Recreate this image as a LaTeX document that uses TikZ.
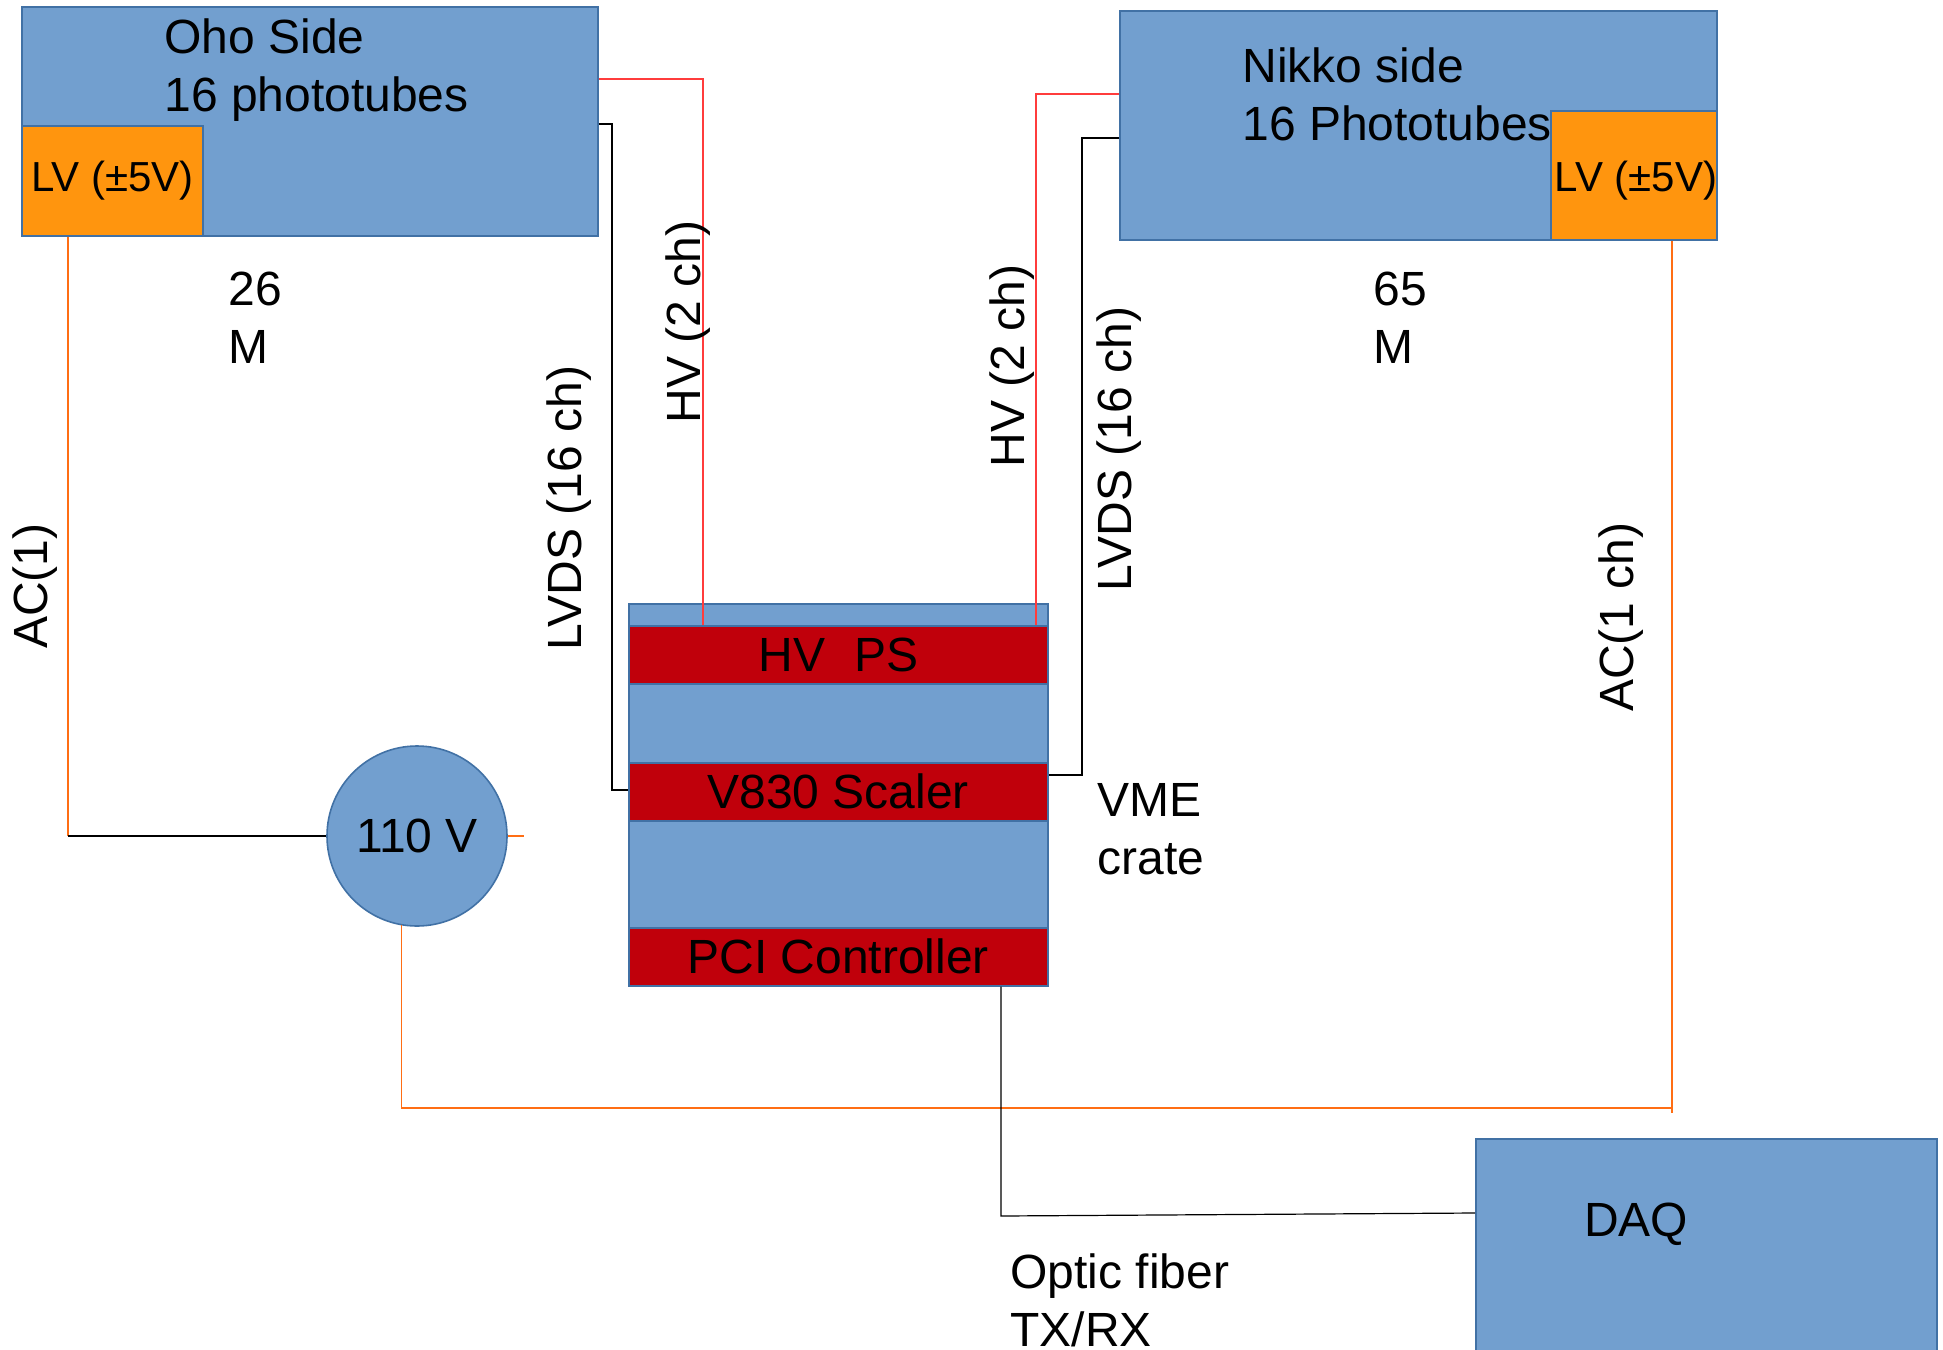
\documentclass[tikz,border=0pt]{standalone}
\usepackage{fontspec}
\setmainfont{Liberation Sans}
\usetikzlibrary{calc}
\definecolor{boxblue}{RGB}{114,159,207}
\definecolor{boxedge}{RGB}{65,113,165}
\definecolor{lvorange}{RGB}{255,149,14}
\definecolor{modred}{RGB}{192,0,11}
\definecolor{hvred}{RGB}{255,60,60}
\definecolor{acorange}{RGB}{255,110,20}
\begin{document}
\begin{tikzpicture}[x=0.5pt,y=-0.5pt,
  txt/.style={font=\fontsize{24}{29}\selectfont, inner sep=0pt, text=black},
  lvtxt/.style={font=\fontsize{21}{25}\selectfont, inner sep=0pt, text=black},
  bluebox/.style={draw=boxedge, fill=boxblue, line width=0.8pt, inner sep=0pt, anchor=north west},
  lvbox/.style={draw=boxedge, fill=lvorange, line width=0.8pt, inner sep=0pt, anchor=north west},
  modbox/.style={draw=boxedge, fill=modred, line width=0.8pt, inner sep=0pt, anchor=north west, minimum width=209.5pt, minimum height=29pt},
  hvline/.style={draw=hvred, line width=0.6pt},
  acline/.style={draw=acorange, line width=0.7pt},
  sigline/.style={draw=black, line width=0.6pt},
]
\useasboundingbox (0,0) rectangle (1943,1349);
\fill[white] (0,0) rectangle (1943,1349);

% Oho side
\node[bluebox, minimum width=288pt, minimum height=114.5pt] (oho) at (21,6) {};
\node[lvbox, minimum width=90.5pt, minimum height=55pt] (ohoLV) at (21,125) {};
\node[txt, anchor=west, align=left] (ohoT) at (164,70) {Oho Side\\16 phototubes};
\node[lvtxt] (ohoLVt) at (ohoLV.center) {LV (±5V)};

% Nikko side
\node[bluebox, minimum width=298.5pt, minimum height=114.5pt] (nikko) at (1119,10) {};
\node[lvbox, minimum width=83pt, minimum height=64.5pt] (nikkoLV) at (1550,110) {};
\node[txt, anchor=west, align=left] (nikkoT) at (1242,94) {Nikko side\\16 Phototubes};
\node[lvtxt] (nikkoLVt) at (1636,181) {LV (±5V)};

% VME crate
\node[bluebox, minimum width=209.5pt, minimum height=191pt] (vme) at (628,603) {};
\node[modbox] (hvps) at (628,625) {};
\node[modbox] (v830) at (628,762) {};
\node[modbox] (pci) at (628,927) {};
\node[txt] (hvpsT) at (hvps.center) {HV\hspace{0.6em}PS};
\node[txt] (v830T) at (v830.center) {V830 Scaler};
\node[txt] (pciT) at (pci.center) {PCI Controller};

% mains
\node[circle, draw=boxedge, fill=boxblue, line width=0.8pt, minimum size=90pt, inner sep=0pt, font=\fontsize{24}{29}\selectfont] (mains) at (417,836) {110 V};

% DAQ
\node[bluebox, minimum width=230.5pt, minimum height=107pt] (daq) at (1475,1138) {};
\node[txt] (daqT) at (1636,1224) {DAQ};

% helper coordinates
\coordinate (hvLy) at (0,79);
\coordinate (hvLx) at (703,0);
\coordinate (lvLy) at (0,124);
\coordinate (lvLx) at (612,0);
\coordinate (lvLz) at (0,790);
\coordinate (hvRy) at (0,94);
\coordinate (hvRx) at (1036,0);
\coordinate (lvRy) at (0,138);
\coordinate (lvRx) at (1082,0);
\coordinate (lvRz) at (0,775);
\coordinate (acL) at (68,836);
\coordinate (stubE) at (524,836);
\coordinate (acRb) at (1672,1108);
\coordinate (acRe) at (1672,1113);
\coordinate (fibC) at (1001,1216);
\coordinate (fibD) at (1475,1213);

% HV lines
\draw[hvline] (oho.east |- hvLy) -| (hvLx |- hvps.north);
\draw[hvline] (nikko.west |- hvRy) -| (hvRx |- hvps.north);
% LVDS lines
\draw[sigline] (oho.east |- lvLy) -| (lvLx |- lvLz) -- (v830.west |- lvLz);
\draw[sigline] (nikko.west |- lvRy) -| (lvRx |- lvRz) -- (v830.east |- lvRz);
% AC lines
\draw[acline] (ohoLV.south -| acL) -- (acL);
\draw[sigline] (acL) -- (mains.west);
\draw[acline] (mains.east) -- (stubE);
\draw[acline] (mains.260.5) |- (acRb);
\draw[acline] (nikkoLV.south -| acRe) -- (acRe);
% optic fiber
\draw[sigline] (pci.south -| fibC) -- (fibC) -- (fibD -| daq.west);

% labels
\node[txt, rotate=90] (acLl) at (35,586) {AC(1)};
\node[txt, rotate=90] (lvdsLl) at (569,508) {LVDS (16 ch)};
\node[txt, rotate=90] (hvLl) at (688,322) {HV (2 ch)};
\node[txt, rotate=90] (hvRl) at (1012,366) {HV (2 ch)};
\node[txt, rotate=90] (lvdsRl) at (1119,449) {LVDS (16 ch)};
\node[txt, rotate=90] (acRl) at (1621,617) {AC(1 ch)};
\node[txt, anchor=west, align=left] (d26) at (228,318) {26\\M};
\node[txt, anchor=west, align=left] (d65) at (1373,318) {65\\M};
\node[txt, anchor=west, align=left] (vmeT) at (1097,829) {VME\\crate};
\node[txt, anchor=west, align=left] (fibT) at (1010,1300) {Optic fiber\\TX/RX};
\end{tikzpicture}
\end{document}
